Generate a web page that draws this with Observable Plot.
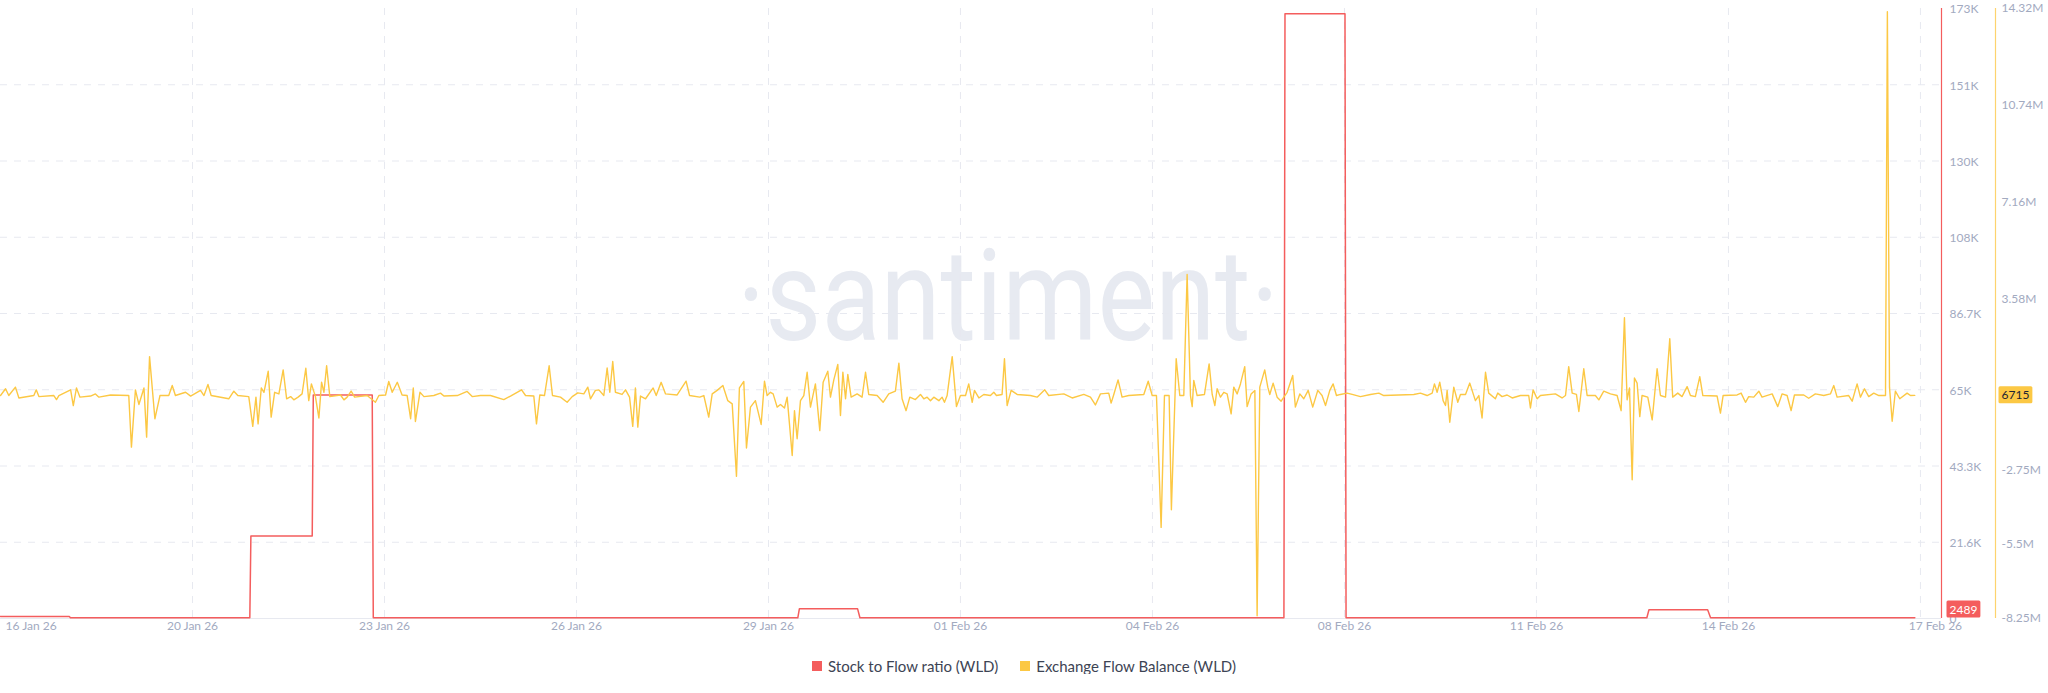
<!DOCTYPE html>
<html><head><meta charset="utf-8">
<script src="https://cdn.jsdelivr.net/npm/d3@7"></script>
<script src="https://cdn.jsdelivr.net/npm/@observablehq/plot@0.6"></script>
<style>
body{margin:0;background:#fff;font-family:Lato,"Open Sans",sans-serif;}
#wrap{position:relative;width:2048px;height:645px;}
#wrap svg{position:absolute;left:0;top:0;}
#legend{display:flex;justify-content:center;align-items:center;gap:22px;margin-top:13px;height:16px;font-size:15px;color:#3d4454;padding-left:0;}
#legend span.item{display:flex;align-items:center;gap:6px;}
#legend i{display:inline-block;width:10px;height:10px;}
</style></head><body>
<div id="wrap"></div>
<div id="legend"></div>
<script>
// ---------- data ----------
const startDate = "2026-01-17T00:00:00Z";   // hour 0 of the series
const endHour = 727.9;                      // right edge of the time domain (hours)
const seriesNames = ["Stock to Flow ratio (WLD)", "Exchange Flow Balance (WLD)"];
const seriesColors = ["#f45d5d", "#fcc844"];

// Stock to Flow ratio: [hour, value]
const sfPoints = [[0,600],[25.8,600],[26.2,200],[93.5,200],[93.9,23400],[116.9,23400],[117.3,63400],[139.4,63400],[139.8,200],
  [299,200],[299.6,2800],[321.4,2800],[322.3,200],[481.3,200],[481.7,171500],[504.2,171500],[504.6,200],
  [617.4,200],[618.2,2500],[640.2,2500],[641.3,200],[717.9,200]];
const sfLastLabel = "2489";
const sfLastValue = 2489;

// Exchange Flow Balance, millions WLD: [hour, value]
const efbPoints = [[0,0],[1.9,.25],[3.1,0],[5.6,.31],[6.9,-.09],[12.5,0],[13.4,.21],[14.4,-.04],[20,0],[21,-.15],[21.9,0],[26.3,.21],[27.3,-.37],[28.5,.28],[29.8,-.06],[33.8,-.02],[35.6,.06],[36.9,-.06],[41.3,.02],[48.1,0],[49.1,-1.91],[50.6,.21],[51.9,-.33],[53.8,.28],[54.8,-1.54],[55.9,1.44],[57.9,-.86],[59.8,0],[63.1,0],[64.4,.37],[65.6,0],[69.4,.12],[71.3,-.02],[75,.19],[76.3,0],[77.8,.41],[79,0],[85.6,-.12],[87.5,.16],[89,0],[93.1,-.04],[94.6,-1.14],[95.8,-.06],[96.6,-1.05],[97.8,.28],[98.8,.12],[100.4,.9],[101.5,-.8],[102.8,.12],[104.4,.06],[106,.95],[107.3,-.12],[108.8,-.04],[110,-.16],[111.6,-.06],[113.1,.06],[114.5,1.01],[115.6,-.19],[116.6,.43],[118.1,-.04],[119.4,-.83],[120.4,.49],[121.3,.12],[122.3,1.1],[123.5,-.04],[127.5,.02],[128.8,-.16],[130,-.06],[131.5,.16],[132.8,-.06],[137.5,0],[140.6,-.25],[141.9,0],[144.4,.02],[145.6,.52],[146.9,.12],[148.8,.49],[150.6,.02],[152.5,0],[153.8,-.86],[154.8,.28],[155.6,-.96],[157.3,.12],[158.8,-.04],[162.5,0],[165,.09],[166.3,-.02],[171.3,0],[175,.15],[176.9,-.04],[180,0],
[183.75,0],[188.75,-.15],[191.25,-.02],[195.4,.21],[196.9,0],[200,-.02],[201,-1.05],[202.25,.02],[204,0],[205.75,1.1],[207,0],[210,-.06],[212.5,-.25],[214.4,-.04],[216.5,.1],[218.75,.06],[220.25,.31],[221.25,-.12],[223.1,.19],[224.4,.21],[226.25,0],[227.5,1.02],[228.5,.12],[229.6,1.26],[230.6,.12],[233.1,.04],[234.4,.21],[235.9,-.06],[237.1,-1.14],[238.1,.28],[239,-1.17],[240,-.02],[241.9,-.12],[244.75,.28],[245.9,0],[247.75,.49],[249.4,.06],[253.75,.02],[257.1,.53],[258.4,0],[262.25,-.06],[263.75,0],[265.6,-.8],[266.9,.06],[268.75,.19],[270.9,.37],[272.75,-.19],[274.4,-.31],[276,-2.99],[277.1,.28],[278.75,.52],[279.75,-1.94],[281.25,-.43],[283.1,-.19],[285.25,-1.07],[286.5,.53],[287.5,0],[288.75,.12],[289.75,.06],[291.25,-.43],[292.5,-.33],[294,-.46],[295,-.06],[296.9,-2.22],[297.75,-.56],[298.75,-1.6],[300,-.19],[301.25,0],[302.5,.86],[303.75,-.43],[305.6,.43],[307.25,-1.3],[308.5,.49],[310.25,.9],[311.25,-.06],[312.5,.58],[314,1.15],[315,-.74],[315.9,.86],[316.9,-.12],[317.75,.78],[319,-.06],[321.25,.06],[323.1,-.06],[324.4,.86],[325.6,.04],[328.75,0],[331,-.25],[333.1,.06],[335.6,.16],[336.9,1.2],[338.1,-.12],[339.6,-.56],[341,-.06],[343.1,-.15],[345,.04],[346.25,-.12],[347.5,-.06],[348.75,-.19],[350,-.06],[351.9,-.19],[353.1,-.06],[354,-.25],[355,0],[356.9,1.44],[358.5,-.41],[360,0],[361.9,0],[363.1,.43],[364.4,-.25],[365.25,.19],[366.9,-.09],[368.75,.04],[371.25,0],
[372.5,.12],[373.5,0],[375.6,.04],[376.5,1.36],[377.5,-.37],[379,.19],[381.25,.04],[386.25,0],[388.75,-.06],[391.6,.21],[393.1,0],[398.75,.06],[401.9,-.09],[406.25,.04],[408.75,-.06],[410.6,-.35],[412.5,.06],[415.6,.09],[416.5,-.28],[417.5,.04],[419.1,.58],[420.6,-.06],[423.1,0],[428.75,.04],[430.4,.53],[431.9,0],[433.5,0],[435.25,-4.88],[436.5,0],[438.25,0],[439.1,-4.23],[440.9,1.36],[442.25,0],[443.75,0],[445,4.48],[446.25,0],[446.9,-.41],[447.5,.56],[448.75,0],[451.5,.04],[453.25,1.17],[454.4,.04],[455.4,-.37],[456.25,.25],[457.5,-.06],[458.75,.12],[460,.06],[461.5,-.68],[462.5,.31],[463.75,.06],[465,.43],[466.6,1.07],[467.5,-.41],[469,.06],[470.4,.19],[471.25,-8.15],[472.25,.31],[474.1,.95],[475.25,.31],[476,.04],[477.25,.46],[478.75,-.06],[480.25,-.21],[482.5,.12],[484.6,.74],[485.6,-.43],[487.25,.06],[488.75,-.12],[490.4,.19],[492.1,-.43],[494,.19],[495.6,0],[496.9,-.37],[498.5,.19],[499.75,.43],[501,0],[502.5,.04],[505,.09],[506.9,.04],[510,-.04],[513.75,.04],[516.9,.09],[518.75,0],[530,.04],[532.5,.09],[535,0],[536.9,.09],[537.75,.43],[538.75,.12],[539.75,.49],[541,-.19],[541.9,-.37],[542.5,.19],[543.5,-.99],[545,.31],[546.5,-.25],[547.5,.04],[549.4,.04],[551,.46],
[553.1,-.19],[554.4,0],[555.6,-.83],[556.9,.86],[558.1,.09],[560.6,-.12],[561.5,.09],[563.1,-.04],[565,.02],[566.9,-.09],[570,0],[573.1,0],[573.75,-.46],[574.75,.21],[576.25,-.12],[577.5,0],[583.1,.06],[585.6,-.09],[586.9,0],[588.1,1.07],[589.4,.09],[591,.04],[591.9,-.59],[593.75,.99],[595,0],[598.1,0],[599.4,-.16],[601.25,.16],[603.75,.06],[606.25,0],[607.75,-.56],[609,2.88],[610,-.16],[610.9,.28],[611.9,-3.12],[612.75,.65],[613.75,.46],[614.75,-.78],[615.6,0],[617.75,-.06],[619.4,-.9],[621.25,.99],[622.5,0],[624.4,-.06],[626,2.1],[627.1,-.06],[629,.09],[630.6,-.04],[632.5,.33],[633.75,0],[635.6,-.04],[637.25,.7],[638.4,0],[643.75,-.02],[645,-.65],[646,0],[651.25,.02],[652.75,.09],[654.4,-.25],[655.6,-.04],[657.5,-.06],[659.4,.16],[660.6,-.06],[664.4,.06],[666.5,-.41],[668.1,.06],[670,0],[671.5,-.56],[672.75,.02],[676.25,.02],[678.1,-.1],[680.6,.06],[683.75,0],[686.25,.06],[687.5,.37],[688.75,-.06],[693.1,0],[694.4,-.21],[696.25,.43],[697.5,-.06],[699,.25],[700.6,-.04],[702.5,.09],[704.4,0],[706.9,0],[707.6,14.2],[708.4,.3],[709.4,-.95],[710.6,.16],[712.25,-.12],[715,.09],[716.25,0],[717.9,.0067]];
const efbLastLabel = "6715";
const efbLastValue = 0.006715;

// axes
const sfTickValues = [0,21625,43250,64875,86500,108125,129750,151375,173000];
const sfTickLabels = ["0","21.6K","43.3K","65K","86.7K","108K","130K","151K","173K"];
const sfDomain = [0,173000];
const efbTickValues = [-8.25,-5.5,-2.75,3.58,7.16,10.74,14.32];
const efbTickLabels = ["-8.25M","-5.5M","-2.75M","3.58M","7.16M","10.74M","14.32M"];
const efbDomain = [-8.25,14.32];
const xTickDates = ["2026-01-20","2026-01-23","2026-01-26","2026-01-29","2026-02-01","2026-02-04","2026-02-07","2026-02-10","2026-02-13","2026-02-16"];
const xTickLabels = ["20 Jan 26","23 Jan 26","26 Jan 26","29 Jan 26","01 Feb 26","04 Feb 26","08 Feb 26","11 Feb 26","14 Feb 26","17 Feb 26"];
const xFirstLabel = "16 Jan 26";
const watermark = "·santiment·";

// ---------- build ----------
const t0 = new Date(startDate).getTime();
const toDate = h => new Date(t0 + h * 3600e3);
const tEnd = toDate(endHour);
const sf = sfPoints.map(([h, v]) => ({date: toDate(h), value: v}));
const efb = efbPoints.map(([h, v]) => ({date: toDate(h), value: v}));
const xTicks = xTickDates.map((d, i) => ({date: new Date(d + "T00:00:00Z"), label: xTickLabels[i]}));
const sfTicks = sfTickValues.map((v, i) => ({value: v, label: sfTickLabels[i]}));
const efbTicks = efbTickValues.map((v, i) => ({value: v, label: efbTickLabels[i]}));

const W = 2048, H = 645, MT = 8, MB = 27, ML = 0, MR = 107;
const grey = "#a2aabf", grid = "#e7e9f0";
const common = {width: W, height: H, marginTop: MT, marginBottom: MB, marginLeft: ML, marginRight: MR,
  style: {background: "transparent", fontFamily: "Lato, 'Open Sans', sans-serif"}};

const base = Plot.plot({
  ...common,
  x: {type: "utc", domain: [toDate(0), tEnd], axis: null},
  y: {domain: sfDomain, axis: null},
  marks: [
    Plot.text([watermark], {frameAnchor: "middle", dx: 37, dy: -14, fontSize: 128, fontWeight: 400,
      fill: "#e7eaf1", fontFamily: "Roboto, Lato, sans-serif"}),
    Plot.ruleY(sfTicks.slice(1, -1), {y: "value", stroke: grid, strokeDasharray: "7,7"}),
    Plot.ruleY([0], {stroke: grid}),
    Plot.ruleX(xTicks, {x: "date", stroke: grid, strokeDasharray: "7,7"}),
    Plot.text(xTicks.slice(0, -1), {x: "date", text: "label", frameAnchor: "bottom", dy: 11, fill: grey, fontSize: 12}),
    Plot.text(xTicks.slice(-1), {x: "date", text: "label", frameAnchor: "bottom", dy: 11, dx: 15, fill: grey, fontSize: 12}),
    Plot.text([xFirstLabel], {x: () => toDate(0), text: d => d, frameAnchor: "bottom", dy: 11, dx: 5, textAnchor: "start", fill: grey, fontSize: 12}),
    Plot.line(sf, {x: "date", y: "value", stroke: seriesColors[0], strokeWidth: 1.5}),
    Plot.ruleX([tEnd], {stroke: seriesColors[0], strokeWidth: 1.2}),
    Plot.text(sfTicks, {x: () => tEnd, y: "value", text: "label", textAnchor: "start", dx: 8, dy: 1, fill: grey, fontSize: 12}),
    Plot.text([sfLastValue], {x: () => tEnd, y: d => d, text: () => sfLastLabel, textAnchor: "start", dx: 8, fill: "#fff", fontSize: 12})
  ]
});

const over = Plot.plot({
  ...common,
  x: {type: "utc", domain: [toDate(0), tEnd], axis: null},
  y: {domain: efbDomain, axis: null},
  marks: [
    Plot.line(efb, {x: "date", y: "value", stroke: seriesColors[1], strokeWidth: 1.4}),
    Plot.ruleX([tEnd], {stroke: "#fdd36e", strokeWidth: 1.2, dx: 54}),
    Plot.text(efbTicks, {x: () => tEnd, y: "value", text: "label", textAnchor: "start", dx: 60, fill: grey, fontSize: 12}),
    Plot.text([efbLastValue], {x: () => tEnd, y: d => d, text: () => efbLastLabel, textAnchor: "start", dx: 60, fill: "#1d2433", fontSize: 12})
  ]
});

const wrap = document.getElementById("wrap");
wrap.append(base, over);

function textsWith(svg, content) {
  return Array.from(svg.querySelectorAll("text")).filter(t => t.textContent === content);
}
function boxify(svg, content, fill, px, py) {
  textsWith(svg, content).forEach(t => {
    const b = t.getBBox();
    const r = document.createElementNS("http://www.w3.org/2000/svg", "rect");
    r.setAttribute("x", b.x - px); r.setAttribute("y", b.y - py);
    r.setAttribute("width", b.width + 2 * px); r.setAttribute("height", b.height + 2 * py);
    r.setAttribute("fill", fill); r.setAttribute("rx", 1.5);
    const tr = t.getAttribute("transform"); if (tr) r.setAttribute("transform", tr);
    t.parentNode.insertBefore(r, t);
  });
}
boxify(base, sfLastLabel, seriesColors[0], 3, 1);
boxify(over, efbLastLabel, "#fcc844", 3, 1);
// watermark width
textsWith(base, watermark).forEach(t => {
  t.setAttribute("textLength", 542); t.setAttribute("lengthAdjust", "spacingAndGlyphs");
});

const legend = document.getElementById("legend");
seriesNames.forEach((n, i) => {
  const s = document.createElement("span"); s.className = "item";
  s.innerHTML = `<i style="background:${seriesColors[i]}"></i>${n}`;
  legend.append(s);
});
</script>
</body></html>
